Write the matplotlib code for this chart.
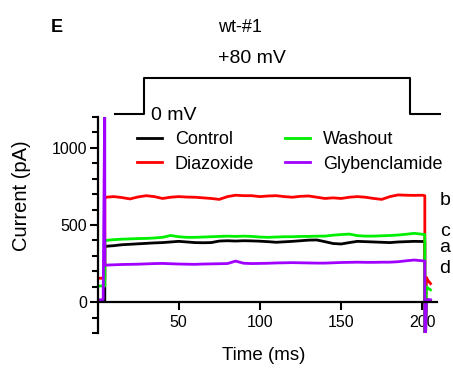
import matplotlib
matplotlib.use('Agg')
import matplotlib.pyplot as plt
import numpy as np

plt.rcParams['font.family'] = ['Liberation Sans', 'DejaVu Sans']

# steady part of the currents during the +80 mV step (pA), read every 5 ms
t_step = [5, 10, 15, 20, 25, 30, 35, 40, 45, 50, 55, 60, 65, 70, 75, 80, 85, 90, 95, 100,
          105, 110, 115, 120, 125, 130, 135, 140, 145, 150, 155, 160, 165, 170, 175, 180,
          185, 190, 195, 200, 201.5]
control = [362, 366, 372, 375, 378, 381, 384, 386, 390, 394, 390, 386, 385, 386, 396, 398,
           396, 398, 397, 395, 392, 388, 391, 394, 398, 402, 403, 392, 380, 377, 386, 394,
           392, 390, 388, 386, 390, 392, 394, 393, 393]
diazoxide = [680, 684, 678, 669, 682, 690, 684, 672, 680, 684, 681, 680, 676, 672, 666, 684,
             693, 690, 690, 684, 688, 690, 684, 680, 686, 688, 680, 672, 676, 672, 680, 684,
             680, 672, 666, 684, 695, 693, 692, 693, 690]
washout = [400, 405, 408, 410, 412, 413, 416, 420, 432, 424, 420, 420, 422, 424, 426, 428,
           426, 428, 426, 422, 420, 422, 424, 424, 426, 426, 428, 428, 434, 438, 441, 431,
           428, 428, 430, 432, 435, 440, 446, 440, 438]
glyben = [240, 242, 244, 245, 246, 248, 250, 251, 249, 247, 246, 245, 247, 248, 249, 250,
          266, 252, 250, 251, 252, 254, 255, 256, 255, 254, 253, 253, 255, 257, 258, 259,
          258, 258, 259, 259, 262, 268, 273, 268, 266]

# holding level before the step and tail after it
t_pre = [0, 3.5, 4.5]
pre = {'Control': [10, 10, 10], 'Diazoxide': [155, 155, 155],
       'Washout': [105, 105, 105], 'Glybenclamide': [15, 15, 1400]}
t_post = [201.5, 202.5, 203.5, 205]
post = {'Control': [-400, 20, 15, 10], 'Diazoxide': [-400, 160, 140, 120],
        'Washout': [-400, 100, 90, 80], 'Glybenclamide': [-400, 15, 15, 15]}

names = ['Control', 'Diazoxide', 'Washout', 'Glybenclamide']
steady = [control, diazoxide, washout, glyben]
colors = ['black', '#ff0000', '#00ee00', '#a000ff']
letters = ['a', 'b', 'c', 'd']
letter_y = [351, 662, 455, 221]

# voltage protocol (schematic)
prot_t = [10.8, 28.6, 28.6, 192.4, 192.4, 211]
prot_v = [0, 0, 80, 80, 0, 0]

fig = plt.figure(figsize=(4.53, 3.71), dpi=100)
W, H = 453, 371
x0, x1 = 97.5, 437
ax = fig.add_axes([x0 / W, 1 - 333 / H, (x1 - x0) / W, 216 / H])

for name, s, c in zip(names, steady, colors):
    t = t_pre + [4.5] + t_step + t_post
    y = pre[name] + [s[0]] + s + post[name]
    ax.plot(t, y, color=c, lw=2.0, label=name)

ax.set_xlim(0, 209)
ax.set_ylim(-200, 1200)
ax.spines['top'].set_visible(False)
ax.spines['right'].set_visible(False)
ax.spines['bottom'].set_position(('data', 0))
for sp in ['left', 'bottom']:
    ax.spines[sp].set_linewidth(1.6)
ax.set_xticks([50, 100, 150, 200])
ax.set_yticks([0, 500, 1000])
ax.set_yticks(np.arange(-200, 1201, 100), minor=True)
ax.tick_params(axis='both', which='major', length=6, width=1.5, labelsize=11.5)
ax.tick_params(axis='y', which='major', pad=1.5)
ax.tick_params(axis='x', which='major', pad=3.5)
ax.tick_params(axis='y', which='minor', length=4, width=1.5)

ax.set_xlabel('Time (ms)', fontsize=13.5, va='center')
ax.xaxis.set_label_coords(0.49, -0.102)
ax.set_ylabel('Current (pA)', fontsize=14.5, va='center')
ax.yaxis.set_label_coords(-0.225, 0.634)

for l, yv in zip(letters, letter_y):
    ax.text(214, yv, l, fontsize=14, ha='center', va='center', clip_on=False)

ax.legend(loc='upper left', bbox_to_anchor=(0.116, 0.935), ncol=2, frameon=False,
          fontsize=13, handlelength=1.4, handletextpad=0.7, columnspacing=1.7,
          labelspacing=0.42, borderpad=0, borderaxespad=0)

# protocol drawn above the traces with the same time scale
axp = fig.add_axes([x0 / W, 1 - 114 / H, (x1 - x0) / W, 36 / H])
axp.plot(prot_t, prot_v, color='black', lw=1.5, clip_on=False)
axp.set_xlim(0, 209)
axp.set_ylim(0, 80)
axp.axis('off')
axp.text(33, -3, '0 mV', fontsize=14, ha='left', va='center')
axp.text(95, 124, '+80 mV', fontsize=14, ha='center', va='center')

fig.text(240 / W, 1 - 27 / H, 'wt-#1', fontsize=13, ha='center', va='center')
fig.text(57 / W, 1 - 27 / H, 'E', fontsize=13, fontweight='bold', ha='center', va='center')

fig.savefig('out.png', dpi=100)
